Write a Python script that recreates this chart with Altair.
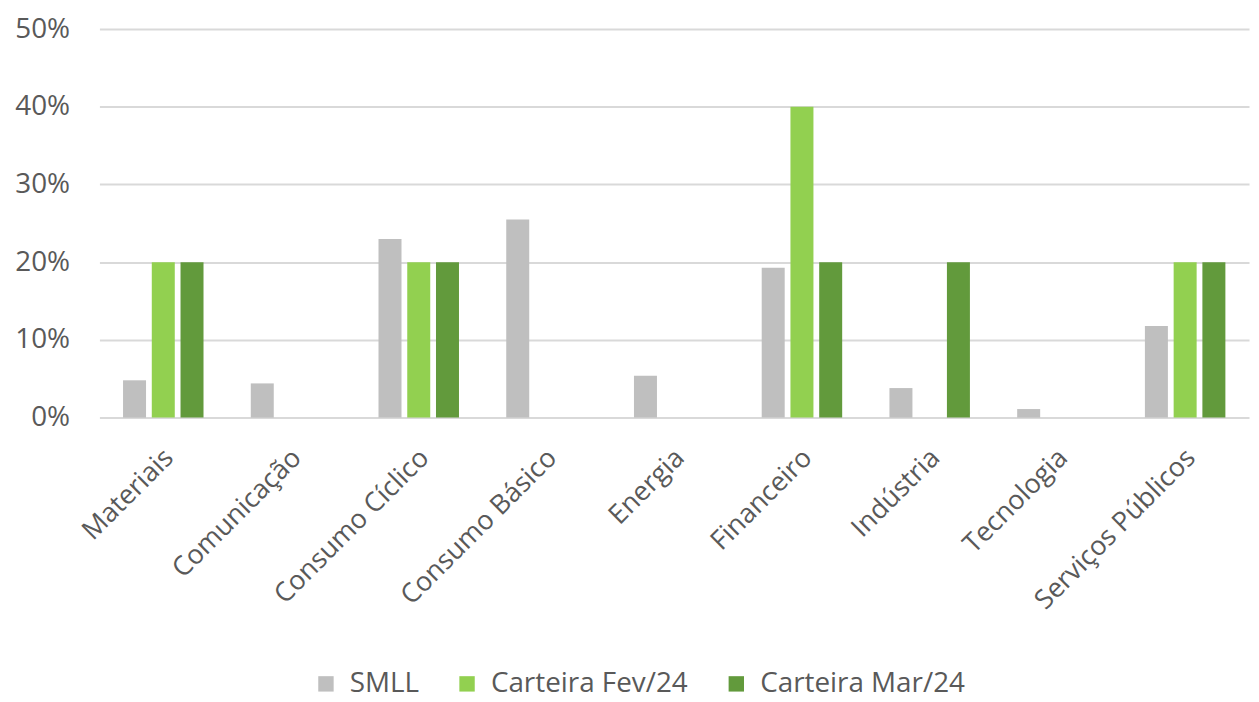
import altair as alt
import pandas as pd

categories = ["Materiais", "Comunicação", "Consumo Cíclico", "Consumo Básico", "Energia",
              "Financeiro", "Indústria", "Tecnologia", "Serviços Públicos"]
series = ["SMLL", "Carteira Fev/24", "Carteira Mar/24"]
smll = [0.048, 0.044, 0.230, 0.255, 0.054, 0.193, 0.038, 0.011, 0.118]
fev = [0.20, 0.0, 0.20, 0.0, 0.0, 0.40, 0.0, 0.0, 0.20]
mar = [0.20, 0.0, 0.20, 0.0, 0.0, 0.20, 0.20, 0.0, 0.20]
colors = ["#bfbfbf", "#92d050", "#629a3c"]
y_ticks = [0, 0.1, 0.2, 0.3, 0.4, 0.5]

rows = []
for name, vals in zip(series, [smll, fev, mar]):
    for c, v in zip(categories, vals):
        rows.append({"Setor": c, "Série": name, "Valor": v})
df = pd.DataFrame(rows)

FONT = "Open Sans"
TXT = "#595959"

chart = alt.Chart(df).mark_bar().encode(
    x=alt.X("Setor:N", sort=categories, title=None,
            scale=alt.Scale(paddingInner=0.37, paddingOuter=0.185),
            axis=alt.Axis(labelAngle=-45, labelAlign="right", labelBaseline="middle",
                          labelPadding=36, labelOffset=6, labelLimit=0,
                          ticks=False, domain=False,
                          labelFont=FONT, labelFontSize=27, labelColor=TXT)),
    xOffset=alt.XOffset("Série:N", sort=series,
                        scale=alt.Scale(paddingInner=0.2, paddingOuter=0)),
    y=alt.Y("Valor:Q", title=None,
            scale=alt.Scale(domain=[0, 0.5], nice=False),
            axis=alt.Axis(values=y_ticks, format=".0%", domain=False, ticks=False,
                          labelPadding=30, gridColor="#d9d9d9", gridWidth=2,
                          labelFont=FONT, labelFontSize=28, labelColor=TXT)),
    color=alt.Color("Série:N", sort=series,
                    scale=alt.Scale(domain=series, range=colors),
                    legend=alt.Legend(title=None, orient="none", direction="horizontal",
                                      legendX=214, legendY=645,
                                      symbolType="square", symbolSize=240,
                                      symbolStrokeWidth=0, labelOffset=10,
                                      columnPadding=34, labelLimit=0,
                                      labelFont=FONT, labelFontSize=28, labelColor=TXT)),
).properties(
    width=1157, height=391,
    autosize=alt.AutoSizeParams(type="none"),
    padding={"left": 92, "top": 19, "right": 2, "bottom": 282},
).configure(background="white").configure_view(strokeWidth=0)

chart.save("out.html", embed_options={"renderer": "svg", "actions": False})
